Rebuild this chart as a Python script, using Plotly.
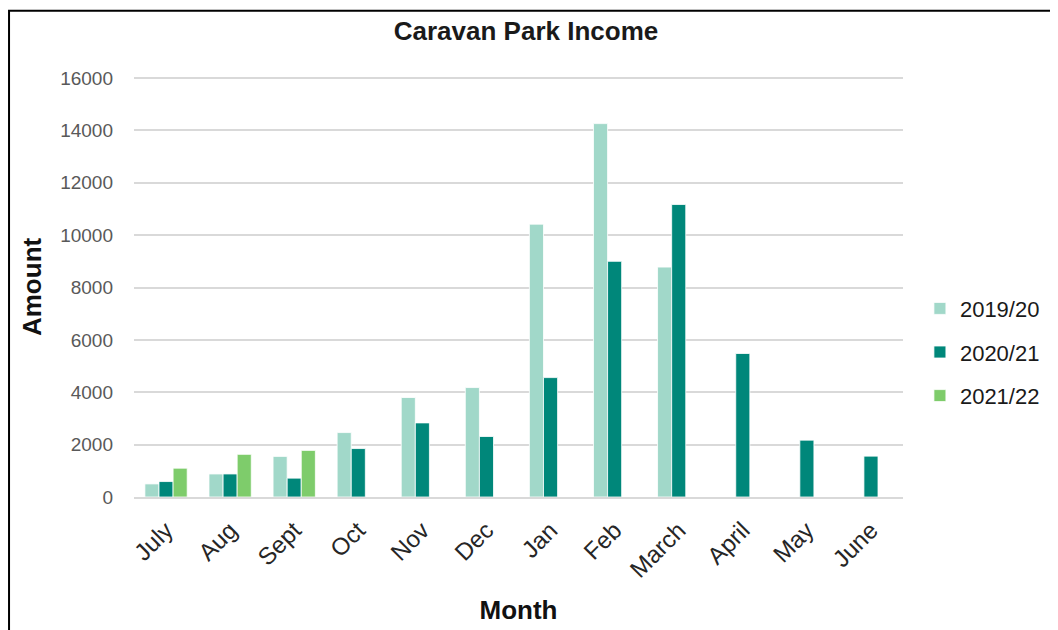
import plotly.graph_objects as go

months = ["July", "Aug", "Sept", "Oct", "Nov", "Dec", "Jan", "Feb", "March", "April", "May", "June"]
income_2019 = [500, 880, 1550, 2460, 3800, 4180, 10420, 14260, 8780, None, None, None]
income_2020 = [590, 880, 720, 1850, 2830, 2310, 4560, 9000, 11170, 5480, 2170, 1560]
income_2021 = [1100, 1630, 1780, None, None, None, None, None, None, None, None, None]

series = [
    ("2019/20", income_2019, "#a1d8c9"),
    ("2020/21", income_2020, "#00877a"),
    ("2021/22", income_2021, "#7ecc6b"),
]

fig = go.Figure()
for name, vals, colour in series:
    fig.add_trace(go.Bar(
        x=months, y=vals, name=name, legendgroup=name,
        marker_color=colour,
        marker_line=dict(color="white", width=0.8),
    ))

# page has an 8px body margin, so margins are shifted by that
fig.update_layout(
    width=1058, height=630,
    barmode="group", bargap=0.34, bargroupgap=0,
    plot_bgcolor="white", paper_bgcolor="white",
    margin=dict(l=126, r=163, t=69, b=141, autoexpand=False),
    font=dict(family="Liberation Sans, Arial", color="#404040"),
    title=dict(text="<b>Caravan Park Income</b>", x=0.4896, xanchor="center",
               y=0.9635, yanchor="middle", font=dict(size=26, color="#1a1a1a")),
    legend=dict(x=1.022, y=0.345, yanchor="middle", font=dict(size=22, color="#1a1a1a"),
                tracegroupgap=12, traceorder="grouped"),
    shapes=[dict(type="rect", xref="paper", yref="paper",
                 x0=-0.1625, x1=1.3, y0=-0.4, y1=1.158,
                 line=dict(color="black", width=2))],
    annotations=[dict(text="<b>Amount</b>", xref="paper", yref="paper",
                      x=-0.1326, y=0.5, xanchor="center", yanchor="middle",
                      textangle=-90, showarrow=False,
                      font=dict(size=26, color="#111111"))],
)

fig.update_yaxes(range=[0, 16040], tickvals=list(range(0, 16001, 2000)), tickformat="d",
                 showgrid=True, gridcolor="#d9d9d9", gridwidth=1.5, automargin=False,
                 zeroline=False, showline=False, ticks="", ticklabelstandoff=20,
                 tickfont=dict(size=19, color="#595959"))
fig.update_xaxes(showline=True, linecolor="#d9d9d9", linewidth=1.5, tickangle=-45,
                 ticklabelstandoff=8, automargin=False,
                 tickfont=dict(size=24, color="#262626"),
                 title=dict(text="<b>Month</b>", font=dict(size=26, color="#111111"), standoff=19))

fig.write_html("out.html")
